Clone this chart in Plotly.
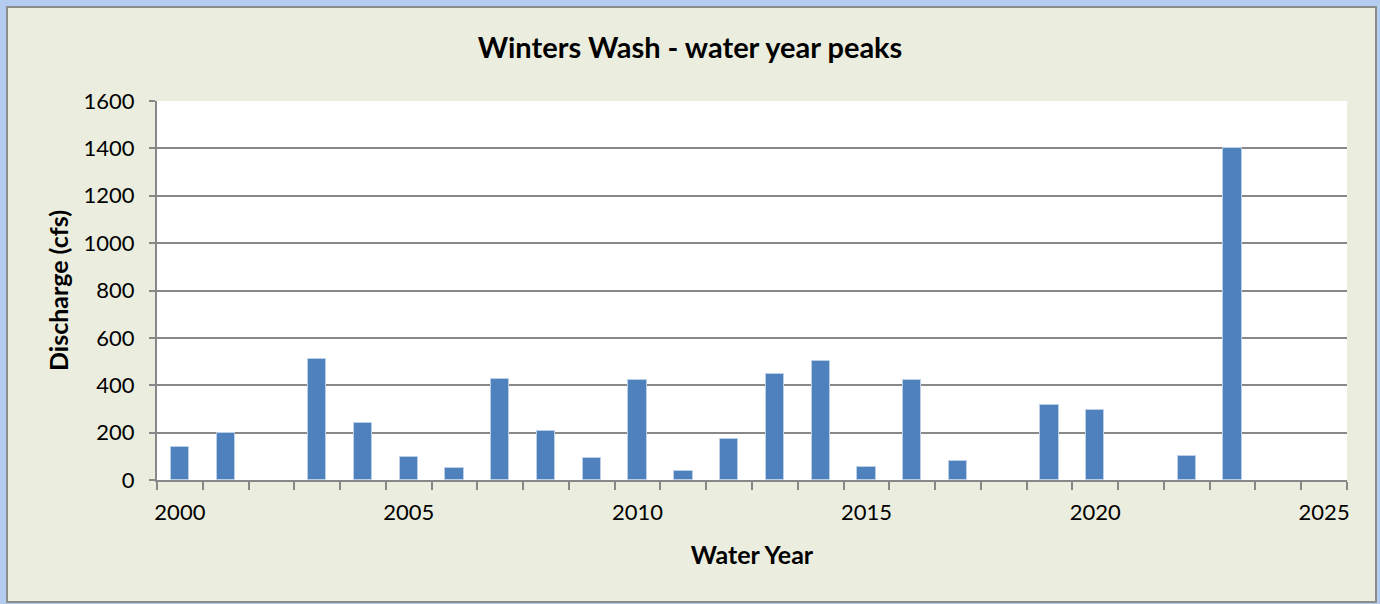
import plotly.graph_objects as go

# Water year peak discharge (cfs)
years = [2000, 2001, 2003, 2004, 2005, 2006, 2007, 2008, 2009, 2010, 2011, 2012,
         2013, 2014, 2015, 2016, 2017, 2019, 2020, 2022, 2023]
peaks = [141, 197, 509, 242, 97, 51, 427, 208, 93, 424, 39, 173,
         448, 504, 55, 421, 82, 317, 296, 100, 1402]

year_ticks = [2000, 2005, 2010, 2015, 2020, 2025]
y_ticks = [0, 200, 400, 600, 800, 1000, 1200, 1400, 1600]

W, H = 1380, 604
L, R, T, B = 157, 33, 101, 124
pw, ph = W - L - R, H - T - B

font = "Lato, 'Open Sans', sans-serif"
grey = "#888888"

fig = go.Figure()
fig.add_trace(go.Bar(
    x=years, y=peaks, width=0.4,
    marker=dict(color="#4F81BD", line=dict(color="#BCCFE8", width=1)),
))

# chart frame (page background + border), then white plot area
fig.add_shape(type="rect", xref="paper", yref="paper", layer="below",
              x0=(7 - L) / pw, x1=(1376 - L) / pw,
              y0=-(602 - T - ph) / ph, y1=(T + ph - 7) / ph,
              fillcolor="#EBEEDE", line=dict(color="#8C8C8C", width=2))
fig.add_shape(type="rect", xref="paper", yref="paper", layer="below",
              x0=0, x1=1, y0=0, y1=1, fillcolor="white", line_width=0)

fig.update_layout(
    width=W, height=H,
    margin=dict(l=L, r=R, t=T, b=B),
    paper_bgcolor="#B3CCEF",
    plot_bgcolor="white",
    showlegend=False,
    font=dict(family=font, size=22, color="black"),
    title=dict(text="<b>Winters Wash - water year peaks</b>", x=0.5, xanchor="center",
               y=1 - 48 / H, yanchor="middle", font=dict(size=29)),
    bargap=0,
)

fig.update_xaxes(
    range=[1999.5, 2025.5], tickmode="array", tickvals=year_ticks,
    ticks="outside", ticklen=8, tickcolor="rgba(0,0,0,0)", ticklabelstandoff=4,
    showgrid=False, zeroline=False,
    showline=True, linecolor=grey, linewidth=2,
    minor=dict(tickmode="linear", tick0=1999.5, dtick=1, ticks="outside",
               ticklen=8, tickwidth=2, tickcolor=grey, showgrid=False),
    title=dict(text="<b>Water Year</b>", font=dict(size=25), standoff=22),
)
fig.update_yaxes(
    range=[0, 1600], tickmode="array", tickvals=y_ticks,
    ticks="outside", ticklen=6, tickwidth=2, tickcolor=grey, ticklabelstandoff=10,
    showgrid=True, gridcolor=grey, gridwidth=1.5,
    zeroline=False, showline=True, linecolor=grey, linewidth=2,
    title=dict(text="<b>Discharge (cfs)</b>", font=dict(size=25), standoff=8),
)

# drop the default page margin so the figure sits at the window's corner
fig.write_html("out.html", config={"displayModeBar": False},
               post_script="document.body.style.margin='0';")
